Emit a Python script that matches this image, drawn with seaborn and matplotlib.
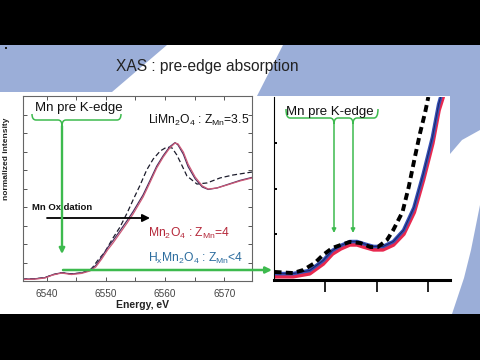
import numpy as np
import pandas as pd
import matplotlib
matplotlib.use('Agg')
import matplotlib.pyplot as plt
import seaborn as sns
from matplotlib.patches import Polygon, Rectangle, PathPatch
from matplotlib.path import Path
from matplotlib.ticker import MultipleLocator

sns.set_theme(style='white')
plt.rcParams['font.family'] = ['Liberation Sans', 'DejaVu Sans']
plt.rcParams['mathtext.default'] = 'regular'

# ---------------------------------------------------------------------------
# Data
# ---------------------------------------------------------------------------
# left panel: full Mn K-edge
mn2o4_energy = [6535.9, 6538.0, 6539.7, 6541.0, 6542.5, 6544.2, 6545.9, 6547.3,
                6548.3, 6549.3, 6550.3, 6551.2, 6552.4, 6553.6, 6554.6, 6556.3,
                6557.5, 6558.6, 6559.7, 6560.8, 6561.7, 6562.2, 6563.1, 6563.9,
                6565.1, 6566.3, 6567.3, 6568.8, 6570.5, 6572.7, 6574.7]
mn2o4_int = [0.008, 0.010, 0.016, 0.032, 0.043, 0.035, 0.041, 0.054,
             0.076, 0.119, 0.168, 0.205, 0.259, 0.314, 0.362, 0.454,
             0.535, 0.611, 0.670, 0.719, 0.746, 0.741, 0.697, 0.632,
             0.562, 0.514, 0.497, 0.503, 0.519, 0.541, 0.557]
hx_int = [0.010, 0.012, 0.018, 0.034, 0.045, 0.038, 0.044, 0.058,
          0.084, 0.130, 0.180, 0.218, 0.272, 0.327, 0.375, 0.466,
          0.546, 0.621, 0.678, 0.726, 0.748, 0.735, 0.685, 0.618,
          0.552, 0.508, 0.495, 0.503, 0.521, 0.544, 0.560]
li_energy = [6535.9, 6538.0, 6539.7, 6541.0, 6542.5, 6544.2, 6545.9, 6547.3,
             6547.8, 6548.6, 6549.8, 6551.2, 6552.4, 6553.6, 6554.6, 6555.8,
             6556.9, 6558.0, 6559.2, 6560.3, 6561.2, 6562.0, 6562.9, 6563.7,
             6565.4, 6567.1, 6569.3, 6571.5, 6574.7]
li_int = [0.010, 0.012, 0.018, 0.034, 0.045, 0.038, 0.044, 0.058,
          0.075, 0.110, 0.155, 0.232, 0.292, 0.368, 0.438, 0.519,
          0.600, 0.659, 0.703, 0.724, 0.719, 0.681, 0.622, 0.568,
          0.524, 0.530, 0.557, 0.573, 0.589]

# right panel: zoom on the pre-edge
pre_energy = [6535.1, 6536.9, 6538.5, 6539.8, 6540.7, 6541.5, 6542.4, 6543.1, 6543.7,
              6544.7, 6545.6, 6546.6, 6547.6, 6548.6, 6549.5, 6550.4, 6551.0, 6551.4]
pre_hx = [0.035, 0.035, 0.052, 0.106, 0.161, 0.188, 0.210, 0.210, 0.199,
          0.183, 0.183, 0.210, 0.272, 0.395, 0.577, 0.780, 0.960, 1.040]
pre_mn2o4 = [0.020, 0.020, 0.036, 0.089, 0.144, 0.172, 0.194, 0.194, 0.183,
             0.167, 0.167, 0.193, 0.252, 0.370, 0.548, 0.748, 0.928, 1.000]
pre_li_energy = [6535.1, 6536.9, 6537.9, 6539.0, 6539.8, 6540.7, 6541.5, 6542.4, 6543.4,
                 6544.4, 6545.1, 6546.0, 6546.6, 6547.5, 6548.1, 6548.7, 6549.2, 6549.7, 6550.0]
pre_li = [0.044, 0.038, 0.055, 0.093, 0.137, 0.175, 0.191, 0.208, 0.202,
          0.180, 0.180, 0.219, 0.273, 0.372, 0.508, 0.672, 0.803, 0.918, 1.000]

left_xticks = [6540, 6550, 6560, 6570]

# colours
slide_blue = '#9baed8'
green = '#3dba4e'
red_txt = '#b5283a'
blue_txt = '#2b6c9e'

W, H = 480, 360
fig = plt.figure(figsize=(4.8, 3.6), dpi=100)
fig.patch.set_facecolor('white')


def frac(x0, y0, x1, y1):
    # pixel box (top-left origin) -> figure fraction rect
    return [x0 / W, 1 - y1 / H, (x1 - x0) / W, (y1 - y0) / H]


# ---------------------------------------------------------------------------
# slide background
# ---------------------------------------------------------------------------
bg = fig.add_axes([0, 0, 1, 1], zorder=0)
bg.set_xlim(0, W)
bg.set_ylim(H, 0)
bg.axis('off')
bg.add_patch(Polygon([(0, 45), (167, 45), (112, 92), (0, 92)], color=slide_blue, lw=0))
bg.add_patch(Polygon([(283, 45), (480, 45), (480, 130), (462, 140), (450, 154),
                      (450, 96), (257, 96)], color=slide_blue, lw=0))
bg.add_patch(Polygon([(480, 205), (476, 225), (471, 250), (464, 278), (452, 314),
                      (480, 314)], color=slide_blue, lw=0))
bg.add_patch(Rectangle((0, 0), W, 45, color='black', lw=0))
bg.add_patch(Rectangle((0, 314), W, 46, color='black', lw=0))
bg.add_patch(Rectangle((5, 47), 2, 2, color='#222222', lw=0))
bg.text(207, 67, 'XAS : pre-edge absorption', fontsize=11.2, color='#222222',
        ha='center', va='center')

# ---------------------------------------------------------------------------
# left panel
# ---------------------------------------------------------------------------
ax = fig.add_axes(frac(23, 96, 252, 281), zorder=1)
ax.set_facecolor('none')
sns.lineplot(x=li_energy, y=li_int, ax=ax, color='#1c1c2c', lw=0.9,
             linestyle=(0, (4, 2.2)), sort=False, estimator=None)
sns.lineplot(x=mn2o4_energy, y=hx_int, ax=ax, color='#4e3160', lw=0.9,
             sort=False, estimator=None)
sns.lineplot(x=mn2o4_energy, y=mn2o4_int, ax=ax, color='#cc5a78', lw=0.9,
             sort=False, estimator=None)
ax.set_xlim(6536, 6574.7)
ax.set_ylim(0, 1)
ax.set_xticks(left_xticks)
ax.xaxis.set_minor_locator(MultipleLocator(5))
ax.yaxis.set_major_locator(MultipleLocator(0.1))
ax.set_yticklabels([])
ax.tick_params(which='both', direction='in', length=3, width=0.7, color='#555555',
               top=True, right=True, bottom=True, left=True)
ax.tick_params(axis='x', labelsize=7.2, labelcolor='#444444', pad=5.5)
for sp in ax.spines.values():
    sp.set_color('#666666')
    sp.set_linewidth(0.8)
ax.set_xlabel('Energy, eV', fontsize=7.5, fontweight='bold', color='#222222')
ax.xaxis.set_label_coords(0.524, -0.105)
ax.text(-0.072, 0.66, 'normalized intensity', rotation=90, fontsize=6,
        fontweight='bold', color='#222222', ha='center', va='center',
        transform=ax.transAxes)

# ---------------------------------------------------------------------------
# right panel (pre-edge zoom)
# ---------------------------------------------------------------------------
bg.add_patch(Rectangle((257, 96), 193, 218, color='white', lw=0))
ax2 = fig.add_axes(frac(274, 97, 450, 280), zorder=1)
ax2.set_facecolor('none')
sns.lineplot(x=pre_energy, y=pre_mn2o4, ax=ax2, color='#e8294f', lw=3.2,
             sort=False, estimator=None)
sns.lineplot(x=pre_energy, y=pre_hx, ax=ax2, color='#3550b5', lw=2.6,
             sort=False, estimator=None)
sns.lineplot(x=pre_energy, y=pre_hx, ax=ax2, color='#1d2466', lw=0.7,
             sort=False, estimator=None)
sns.lineplot(x=pre_li_energy, y=pre_li, ax=ax2, color='black', lw=2.8,
             linestyle=(0, (1.8, 1.1)), sort=False, estimator=None)
ax2.set_xlim(6535.05, 6552.1)
ax2.set_ylim(0, 1)
ax2.set_xticks([6540, 6545, 6550])
ax2.set_yticks([0.25, 0.5, 0.75])
ax2.set_xticklabels([])
ax2.set_yticklabels([])
ax2.spines['top'].set_visible(False)
ax2.spines['right'].set_visible(False)
ax2.spines['left'].set_color('black')
ax2.spines['left'].set_linewidth(0.8)
ax2.spines['bottom'].set_color('black')
ax2.spines['bottom'].set_linewidth(2.2)
ax2.tick_params(axis='x', direction='out', length=8.5, width=1.2, color='black', bottom=True)
ax2.tick_params(axis='y', direction='in', length=2.5, width=1.4, color='black', left=True)

# ---------------------------------------------------------------------------
# annotations (pixel coordinates)
# ---------------------------------------------------------------------------
ov = fig.add_axes([0, 0, 1, 1], zorder=3)
ov.set_xlim(0, W)
ov.set_ylim(H, 0)
ov.axis('off')


def brace(x0, x1, tips, y_top, y_mid, y_tip, r=4):
    verts = [(x0, y_top), (x0, y_mid), (x0 + r, y_mid)]
    codes = [Path.MOVETO, Path.CURVE3, Path.CURVE3]
    for t in tips:
        verts += [(t - r, y_mid), (t, y_mid), (t, y_tip), (t, y_mid), (t + r, y_mid)]
        codes += [Path.LINETO, Path.CURVE3, Path.CURVE3, Path.CURVE3, Path.CURVE3]
    verts += [(x1 - r, y_mid), (x1, y_mid), (x1, y_top)]
    codes += [Path.LINETO, Path.CURVE3, Path.CURVE3]
    ov.add_patch(PathPatch(Path(verts, codes), fill=False, edgecolor=green, lw=1.1))


def arrow(x0, y0, x1, y1, color=green, lw=1.4, ms=8):
    ov.annotate('', xy=(x1, y1), xytext=(x0, y0),
                arrowprops=dict(arrowstyle='-|>', color=color, lw=lw,
                                mutation_scale=ms, shrinkA=0, shrinkB=0))


ov.text(79, 108, 'Mn pre K-edge', fontsize=9.5, color='#111111', ha='center', va='center')
brace(32, 121, [62], 114, 120, 126)
ov.text(148, 120, r'LiMn$_2$O$_4$ : Z$_{Mn}$=3.5', fontsize=8.7, color='#111111',
        ha='left', va='center')
ov.text(32, 208, 'Mn Oxidation', fontsize=6.8, fontweight='bold', color='#111111',
        ha='left', va='center')
arrow(47, 218, 150, 218, color='black', lw=1.3, ms=11)
ov.text(148, 233, r'Mn$_2$O$_4$ : Z$_{Mn}$=4', fontsize=8.7, color=red_txt,
        ha='left', va='center')
ov.text(148, 258, r'H$_x$Mn$_2$O$_4$ : Z$_{Mn}$<4', fontsize=8.7, color=blue_txt,
        ha='left', va='center')
arrow(62, 126, 62, 254, lw=1.7)
arrow(63, 270, 272, 270, lw=1.8, ms=9)

ov.text(330, 112, 'Mn pre K-edge', fontsize=9.5, color='#111111', ha='center', va='center')
brace(286, 378, [334, 353], 109, 118, 124)
arrow(334, 124, 334, 233, lw=1.1, ms=6)
arrow(353, 124, 353, 233, lw=1.1, ms=6)

fig.savefig('out.png', dpi=100)
